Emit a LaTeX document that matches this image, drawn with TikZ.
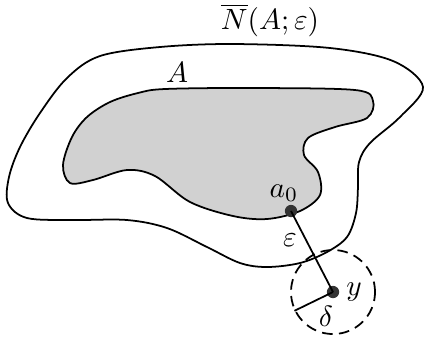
\documentclass[tikz,border=0pt]{standalone}
\usepackage{amsmath, amssymb}
\usetikzlibrary{positioning,calc}
\tikzset{
  setline/.style={semithick, line join=round},
  setfill/.style={fill=black!18},
  pointdot/.style={circle, fill=black!80, inner sep=0pt, minimum size=4.2pt},
  ballstyle/.style={circle, draw, semithick, dash pattern=on 3.6pt off 2.2pt, inner sep=0pt},
  seglabel/.style={font=\normalsize, inner sep=1pt},
}

\begin{document}
\begin{tikzpicture}[x=0.012cm, y=-0.012cm]
  \useasboundingbox (0,0) rectangle (425,339);

  % closed neighbourhood N(A;eps)
  \draw[setline] plot[smooth cycle, tension=0.55] coordinates {
    (100,56) (160,47) (233,44) (330,48) (393,61) (423,87) (400,117) (370,143)
    (359,162) (358,187) (356,213) (347,237) (327,252) (300,263)
    (267,267) (240,263) (207,247) (167,228) (127,220) (73,220)
    (27,218) (8,203) (9,177) (20,147) (40,113) (67,78)};

  % the set A
  \draw[setline, setfill] plot[smooth cycle, tension=0.55] coordinates {
    (165,89) (250,88) (355,90) (373,101) (367,118) (335,127) (308,138)
    (304,155) (318,172) (320,195) (300,211) (267,219) (233,216)
    (190,202) (155,176) (127,170) (93,180) (70,183) (63,165) (72,137)
    (87,117) (110,102) (138,93)};

  % points and ball
  \node[pointdot] (a0) at (291,211) {};
  \node[pointdot] (y) at (333,292) {};
  \node[ballstyle, minimum size=1.008cm] (ball) at (y) {};
  \draw[setline] (a0.center) -- (y.center);
  \draw[setline] (y.center) -- (ball.206);

  % labels
  \node[seglabel] (lN) at (270,20) {$\overline{N}(A;\varepsilon)$};
  \node[seglabel] (lA) at (177,72) {$A$};
  \node[seglabel] (la0) at (284,193) {$a_0$};
  \node[seglabel] (leps) at (290,240) {$\varepsilon$};
  \node[seglabel] (ly) at (354,292) {$y$};
  \node[seglabel] (ldelta) at (326,316) {$\delta$};
\end{tikzpicture}
\end{document}
